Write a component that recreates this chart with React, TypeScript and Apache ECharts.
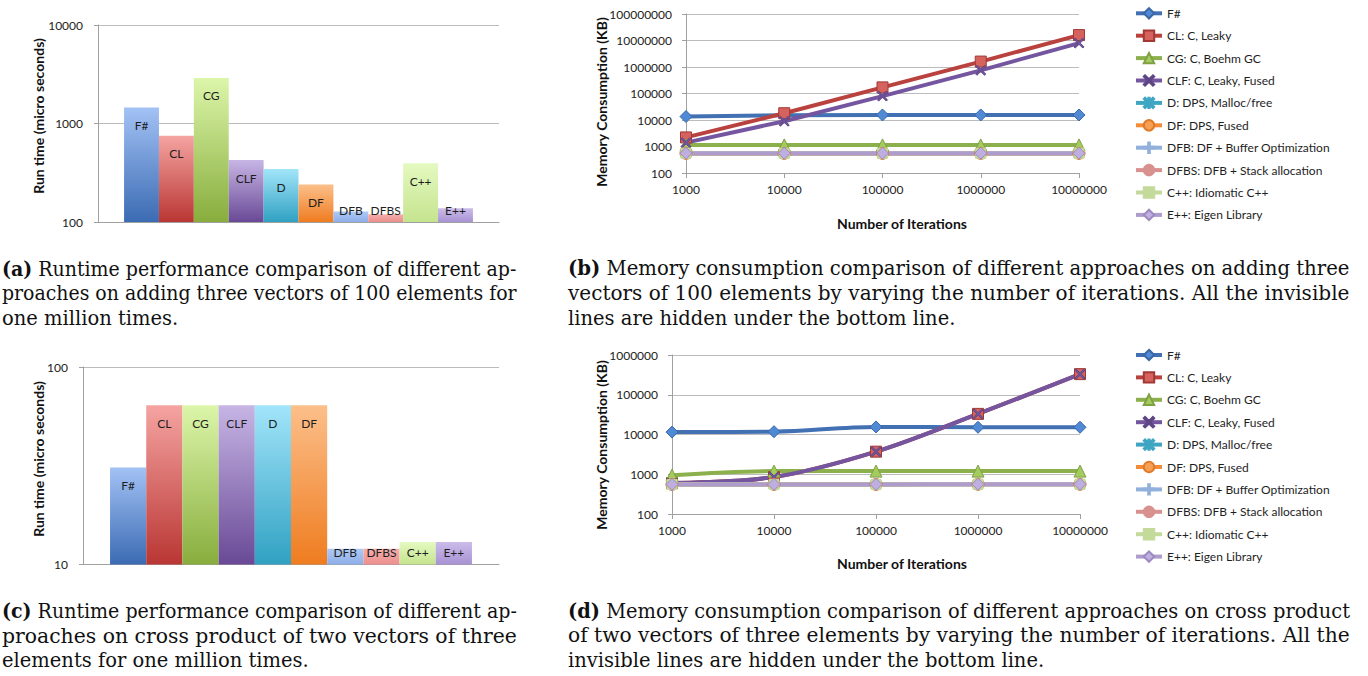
import React, { useEffect, useRef } from "react";
import * as echarts from "echarts";

// ---------- data ----------
const runtimeCategories = ["F#", "CL", "CG", "CLF", "D", "DF", "DFB", "DFBS", "C++", "E++"];
const runtimeAddValues = [1450, 750, 2900, 425, 345, 240, 128, 120, 395, 138];
const runtimeCrossValues = [31, 64, 64, 64, 64, 64, 12, 12, 13, 13];

const iterationLabels = ["1000", "10000", "100000", "1000000", "10000000"];
const legendNames = [
  "F#",
  "CL: C, Leaky",
  "CG: C, Boehm GC",
  "CLF: C, Leaky, Fused",
  "D: DPS, Malloc/free",
  "DF: DPS, Fused",
  "DFB: DF + Buffer Optimization",
  "DFBS: DFB + Stack allocation",
  "C++: Idiomatic C++",
  "E++: Eigen Library",
];

// (b) memory, adding three vectors
const memAddFSharp = [13500, 15000, 15500, 15500, 15500];
const memAddCL = [2200, 18000, 170000, 1600000, 16000000];
const memAddCG = [1150, 1150, 1150, 1150, 1150];
const memAddCLF = [1400, 9000, 80000, 750000, 8000000];
const memAddD = [550, 550, 550, 550, 550];
const memAddDF = [550, 550, 550, 550, 550];
const memAddDFB = [550, 550, 550, 550, 550];
const memAddDFBS = [550, 550, 550, 550, 550];
const memAddCpp = [555, 555, 555, 555, 555];
const memAddEpp = [560, 560, 560, 560, 560];

// (d) memory, cross product
const memCrossFSharp = [11500, 11800, 15500, 15200, 15200];
const memCrossCL = [600, 850, 3700, 33000, 330000];
const memCrossCG = [950, 1200, 1200, 1200, 1200];
const memCrossCLF = [600, 850, 3700, 33000, 330000];
const memCrossD = [555, 555, 555, 560, 560];
const memCrossDF = [555, 555, 555, 560, 560];
const memCrossDFB = [555, 555, 555, 560, 560];
const memCrossDFBS = [555, 555, 555, 560, 560];
const memCrossCpp = [555, 555, 555, 560, 560];
const memCrossEpp = [555, 555, 555, 560, 560];

const captionA = ["Runtime performance comparison of different ap-", "proaches on adding three vectors of 100 elements for", "one million times."];
const captionB = ["Memory consumption comparison of different approaches on adding three", "vectors of 100 elements by varying the number of iterations. All the invisible", "lines are hidden under the bottom line."];
const captionC = ["Runtime performance comparison of different ap-", "proaches on cross product of two vectors of three", "elements for one million times."];
const captionD = ["Memory consumption comparison of different approaches on cross product", "of two vectors of three elements by varying the number of iterations. All the", "invisible lines are hidden under the bottom line."];

// ---------- styles ----------
const FONT = "Lato, 'Open Sans', sans-serif";
const SERIF = "'DejaVu Serif', 'Liberation Serif', serif";
const CAP_SIZE = 19.5;
const GRID_GRAY = "#bcbcbc";
const AXIS_GRAY = "#a0a0a0";

const barColors = [
  ["#a3c2f5", "#3b6bb3"],
  ["#f5a4a2", "#b93633"],
  ["#dcf6aa", "#88ad3d"],
  ["#c7b5e5", "#694996"],
  ["#a2e5fa", "#30a1c2"],
  ["#fcbf8a", "#ef7c20"],
  ["#adc9f5", "#8eaee9"],
  ["#f5aeac", "#ec8f8d"],
  ["#e4f9c0", "#c5e48f"],
  ["#cbbcea", "#a892d3"],
];

const SYM_X = "path://M0,1.2 L1.2,0 L5,3.8 L8.8,0 L10,1.2 L6.2,5 L10,8.8 L8.8,10 L5,6.2 L1.2,10 L0,8.8 L3.8,5 Z";
const SYM_AST = "path://M0,1.2 L1.2,0 L5,3.8 L8.8,0 L10,1.2 L6.2,5 L10,8.8 L8.8,10 L5,6.2 L1.2,10 L0,8.8 L3.8,5 Z M4.4,0 L5.6,0 L5.6,10 L4.4,10 Z";
const SYM_PLUS = "path://M4.2,0 L5.8,0 L5.8,4.2 L10,4.2 L10,5.8 L5.8,5.8 L5.8,10 L4.2,10 L4.2,5.8 L0,5.8 L0,4.2 L4.2,4.2 Z";
const SYM_DASH = "path://M0,4.2 L10,4.2 L10,5.8 L0,5.8 Z";

const lineLooks = [
  { line: "#4271b3", fill: "#5089d4", border: "#3a66a6", symbol: "diamond", size: 12 },
  { line: "#b9413e", fill: "#d6625e", border: "#a13835", symbol: "rect", size: 11 },
  { line: "#8cb04b", fill: "#a4cb5e", border: "#7fa043", symbol: "triangle", size: 12 },
  { line: "#74559f", fill: "#74559f", border: "#5e4585", symbol: SYM_X, size: 10 },
  { line: "#3ea5c2", fill: "#3ea5c2", border: "#3ea5c2", symbol: SYM_AST, size: 10 },
  { line: "#f38b38", fill: "#f7a054", border: "#e0792a", symbol: "circle", size: 12 },
  { line: "#92b0dc", fill: "#92b0dc", border: "#92b0dc", symbol: SYM_PLUS, size: 10 },
  { line: "#d8918f", fill: "#d8918f", border: "#d8918f", symbol: "none", size: 0 },
  { line: "#c3da9b", fill: "#c3da9b", border: "#c3da9b", symbol: SYM_DASH, size: 10 },
  { line: "#ae9dcc", fill: "#bfaee0", border: "#9c89bf", symbol: "diamond", size: 12 },
];

function barSeries(values: number[], axisIndex: number, min: number, max: number, gridH: number, prefix: string) {
  return runtimeCategories.map((name, i) => {
    const v = values[i];
    const hPx = (gridH * Math.log10(v / min)) / Math.log10(max / min);
    const tall = hPx > 32;
    return {
      type: "bar",
      name: prefix + name,
      xAxisIndex: axisIndex,
      yAxisIndex: axisIndex,
      barGap: "0%",
      barCategoryGap: "13%",
      startValue: min,
      clip: true,
      data: [v],
      itemStyle: {
        color: new echarts.graphic.LinearGradient(0, 0, 0, 1, [
          { offset: 0, color: barColors[i][0] },
          { offset: 1, color: barColors[i][1] },
        ]),
      },
      label: {
        show: true,
        position: tall ? "insideTop" : "insideBottom",
        distance: tall ? 12 : 6,
        formatter: name,
        color: "#1e1e1e",
        fontSize: 12,
        fontFamily: FONT,
      },
      emphasis: { disabled: true },
    };
  });
}

function lineSeries(valueLists: number[][], axisIndex: number, smooth: boolean | number) {
  return legendNames.map((name, i) => {
    const look = lineLooks[i];
    return {
      type: "line",
      name,
      xAxisIndex: axisIndex,
      yAxisIndex: axisIndex,
      data: valueLists[i],
      smooth,
      symbol: look.symbol,
      symbolSize: look.size,
      showSymbol: look.symbol !== "none",
      lineStyle: { color: look.line, width: 4 },
      itemStyle: { color: look.fill, borderColor: look.border, borderWidth: 1 },
      emphasis: { disabled: true },
    };
  });
}

function logAxis(gridIndex: number, min: number, max: number, split: number, margin: number) {
  return {
    type: "log",
    gridIndex,
    logBase: 10,
    min,
    max,
    splitNumber: split,
    axisLine: { show: true, lineStyle: { color: AXIS_GRAY, width: 1 } },
    axisTick: { show: true, length: 4, lineStyle: { color: AXIS_GRAY } },
    splitLine: { show: true, lineStyle: { color: GRID_GRAY, width: 1 } },
    minorTick: { show: false },
    axisLabel: {
      margin,
      fontSize: 12,
      color: "#222",
      fontFamily: FONT,
      formatter: (v: number) => String(Math.round(v)),
    },
  };
}

function barXAxis(gridIndex: number) {
  return {
    type: "category",
    gridIndex,
    data: [""],
    axisLine: { show: true, lineStyle: { color: AXIS_GRAY } },
    axisTick: { show: false },
    axisLabel: { show: false },
  };
}

function iterXAxis(gridIndex: number) {
  return {
    type: "category",
    gridIndex,
    data: iterationLabels,
    boundaryGap: false,
    axisLine: { show: true, lineStyle: { color: AXIS_GRAY } },
    axisTick: { show: true, length: 5, lineStyle: { color: AXIS_GRAY } },
    axisLabel: { margin: 10, fontSize: 12, color: "#222", fontFamily: FONT },
  };
}

function title(text: string, x: number, y: number, rotate: boolean) {
  return {
    type: "text",
    x,
    y,
    rotation: rotate ? Math.PI / 2 : 0,
    style: {
      text,
      font: `bold 14px ${FONT}`,
      fill: "#111",
      align: "center",
      verticalAlign: "middle",
      textAlign: "center",
      textVerticalAlign: "middle",
    },
  };
}

let measureCtx: CanvasRenderingContext2D | null = null;
function measure(text: string, font: string) {
  if (!measureCtx) measureCtx = document.createElement("canvas").getContext("2d");
  if (!measureCtx) return 0;
  measureCtx.font = font;
  return measureCtx.measureText(text).width;
}

// each line is one text; justified lines are stretched slightly to the column width
function caption(tag: string, lines: string[], x0: number, x1: number, y0: number) {
  const normal = `${CAP_SIZE}px ${SERIF}`;
  const bold = `bold ${CAP_SIZE}px ${SERIF}`;
  return lines.map((line, i) => {
    const isLast = i === lines.length - 1;
    const natural = i === 0 ? measure(`(${tag})`, bold) + measure(` ${line}`, normal) : measure(line, normal);
    let sx = 1;
    if (!isLast && natural > 0) sx = (x1 - x0) / natural;
    return {
      type: "text",
      x: x0,
      y: y0 + i * 24.7,
      scaleX: sx,
      style: {
        text: i === 0 ? `{b|(${tag})} ${line}` : line,
        font: normal,
        fill: "#111",
        align: "left",
        verticalAlign: "middle",
        textAlign: "left",
        textVerticalAlign: "middle",
        rich: { b: { fontWeight: "bold", fontSize: CAP_SIZE, fontFamily: SERIF, fill: "#111" } },
      },
    };
  });
}

function legend(top: number) {
  return {
    orient: "vertical",
    left: 1129,
    top,
    itemWidth: 26,
    itemHeight: 13,
    itemGap: 9.4,
    selectedMode: false,
    data: legendNames,
    lineStyle: { width: 4 },
    textStyle: { fontSize: 12, lineHeight: 13, color: "#1e1e1e", fontFamily: FONT },
  };
}

export default function App() {
  const ref = useRef<HTMLDivElement>(null);
  useEffect(() => {
    const chart = echarts.init(ref.current!, null, { renderer: "svg" });
    const memAdd = [memAddFSharp, memAddCL, memAddCG, memAddCLF, memAddD, memAddDF, memAddDFB, memAddDFBS, memAddCpp, memAddEpp];
    const memCross = [memCrossFSharp, memCrossCL, memCrossCG, memCrossCLF, memCrossD, memCrossDF, memCrossDFB, memCrossDFBS, memCrossCpp, memCrossEpp];
    const option: any = {
      animation: false,
      backgroundColor: "#ffffff",
      textStyle: { fontFamily: FONT },
      grid: [
        { left: 98, top: 25, width: 401, height: 197 },
        { left: 686, top: 14, width: 393, height: 159 },
        { left: 83, top: 367, width: 416, height: 197.5 },
        { left: 672, top: 355, width: 408, height: 159 },
      ],
      xAxis: [barXAxis(0), iterXAxis(1), barXAxis(2), iterXAxis(3)],
      yAxis: [
        logAxis(0, 100, 10000, 2, 15),
        logAxis(1, 100, 100000000, 6, 14),
        logAxis(2, 10, 100, 1, 15),
        logAxis(3, 100, 1000000, 4, 14),
      ],
      legend: [legend(1.8), legend(343.5)],
      series: [
        ...lineSeries(memAdd, 1, false),
        ...lineSeries(memCross, 3, 0.35),
        ...barSeries(runtimeAddValues, 0, 100, 10000, 197, "add "),
        ...barSeries(runtimeCrossValues, 2, 10, 100, 197.5, "cross "),
      ],
      graphic: [
        title("Run time (micro seconds)", 38, 116, true),
        title("Run time (micro seconds)", 38, 459, true),
        title("Memory Consumption (KB)", 601, 102, true),
        title("Memory Consumption (KB)", 601, 445, true),
        title("Number of Iterations", 902, 223, false),
        title("Number of Iterations", 902, 563, false),
        ...caption("a", captionA, 2, 517, 269),
        ...caption("b", captionB, 568, 1350, 269),
        ...caption("c", captionC, 2, 517, 611),
        ...caption("d", captionD, 568, 1350, 611),
      ],
    };
    chart.setOption(option);
    return () => chart.dispose();
  }, []);
  return (
    <div
      ref={ref}
      style={{ position: "fixed", left: 0, top: 0, width: 1368, height: 676, background: "#fff" }}
    />
  );
}
